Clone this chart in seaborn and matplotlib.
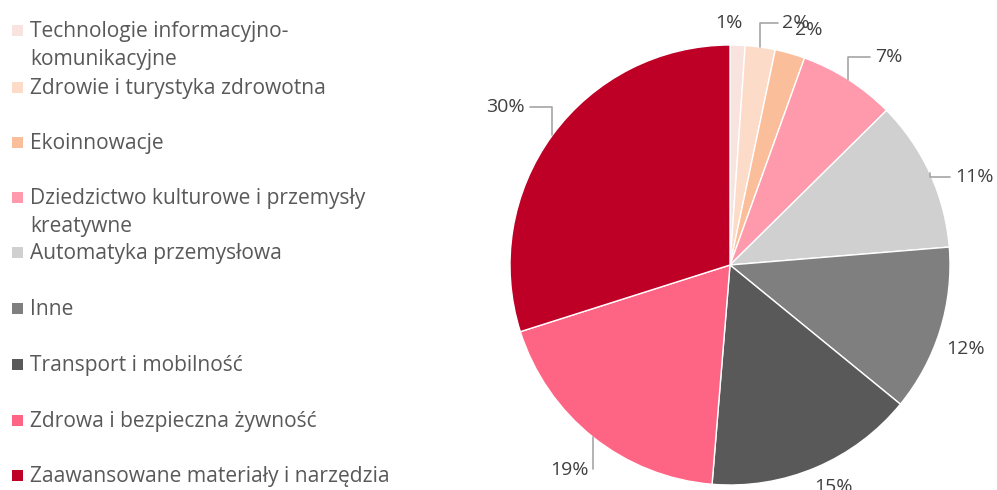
import matplotlib
matplotlib.use("Agg")
import numpy as np
import matplotlib.pyplot as plt
import seaborn as sns
from matplotlib.patches import Rectangle

sns.set_theme(style="white")
plt.rcParams["font.family"] = ["Open Sans", "DejaVu Sans"]

# data (share of projects, %)
categories = [
    "Technologie informacyjno-\nkomunikacyjne",
    "Zdrowie i turystyka zdrowotna",
    "Ekoinnowacje",
    "Dziedzictwo kulturowe i przemysły\nkreatywne",
    "Automatyka przemysłowa",
    "Inne",
    "Transport i mobilność",
    "Zdrowa i bezpieczna żywność",
    "Zaawansowane materiały i narzędzia",
]
shares = [1.1, 2.2, 2.2, 7.1, 11.1, 12.2, 15.4, 18.8, 29.9]
colors = sns.color_palette([
    "#F8E3DF", "#FCDBC8", "#FBBE9B", "#FF99AC", "#D0D0D0",
    "#7F7F7F", "#595959", "#FE6584", "#BE0027",
])

# layout of data labels (pie units) and whether Excel drew a leader line
label_pos = [(-0.005, 1.10), (0.30, 1.10), (0.36, 1.07), (0.72, 0.945),
             (1.11, 0.40), (1.07, -0.38), (0.47, -1.01), (-0.73, -0.93),
             (-1.02, 0.72)]
leader = [False, True, False, True, True, False, False, True, True]

W, H = 997, 490
fig = plt.figure(figsize=(W / 100, H / 100), dpi=100)

# pie, centre at (730, 265) px, radius 220 px
lim = 1.35
side = 2 * lim * 220
ax = fig.add_axes([(730 - side / 2) / W, (H - 265 - side / 2) / H, side / W, side / H])
wedges, _ = ax.pie(
    shares,
    colors=colors,
    startangle=90,
    counterclock=False,
    wedgeprops=dict(edgecolor="white", linewidth=1),
)
ax.set_xlim(-lim, lim)
ax.set_ylim(-lim, lim)
ax.set_aspect("equal")
ax.axis("off")

for w, val, pos, has_leader in zip(wedges, shares, label_pos, leader):
    mid = np.deg2rad((w.theta1 + w.theta2) / 2)
    xy = (np.cos(mid), np.sin(mid))
    kw = dict(ha="center", va="center", fontsize=14, color="#404040",
              annotation_clip=False)
    if has_leader:
        kw["arrowprops"] = dict(arrowstyle="-", color="#A6A6A6", lw=1.2,
                                connectionstyle="angle,angleA=0,angleB=90,rad=0",
                                shrinkA=1, shrinkB=0)
    ax.annotate(f"{val:.0f}%", xy=xy, xytext=pos, **kw)

# legend drawn by hand (pixel coordinates) to mimic the Excel layout
lax = fig.add_axes([0, 0, 450 / W, 1])
lax.set_xlim(0, 450)
lax.set_ylim(H, 0)
lax.axis("off")
row_y = [30, 87, 142, 197, 252, 308, 364, 420, 475]
for name, c, y in zip(categories, colors, row_y):
    lax.add_patch(Rectangle((12, y - 5), 11, 11, facecolor=c, edgecolor="none"))
    lax.text(30, y - 9, name, ha="left", va="top", fontsize=15.1,
             color="#595959", linespacing=1.43)

fig.savefig("out.png", dpi=100)
